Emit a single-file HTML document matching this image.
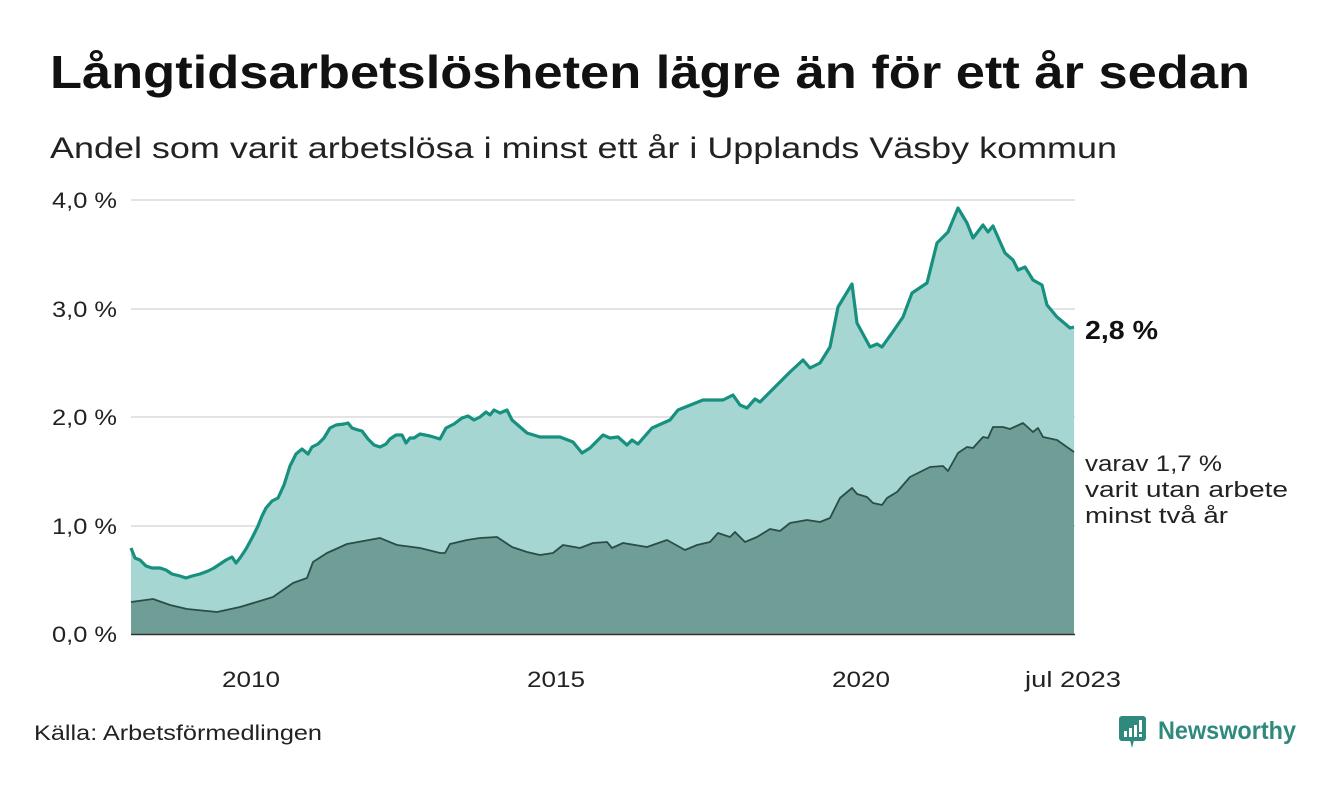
<!DOCTYPE html>
<html><head><meta charset="utf-8"><style>
body{margin:0;background:#fff;width:1340px;height:780px;overflow:hidden;font-family:"Liberation Sans","DejaVu Sans",sans-serif;color:#111}
</style></head><body>
<svg width="1340" height="780" xmlns="http://www.w3.org/2000/svg" font-family="Liberation Sans, DejaVu Sans, sans-serif">
<text x="50" y="88" font-size="46" font-weight="bold" fill="#111" textLength="1200" lengthAdjust="spacingAndGlyphs">Långtidsarbetslösheten lägre än för ett år sedan</text>
<text x="50" y="158" font-size="30" fill="#222" textLength="1067" lengthAdjust="spacingAndGlyphs">Andel som varit arbetslösa i minst ett år i Upplands Väsby kommun</text>
<g stroke="#e3e3e6" stroke-width="2">
<line x1="131" y1="200" x2="1075" y2="200"/><line x1="131" y1="309" x2="1075" y2="309"/><line x1="131" y1="417" x2="1075" y2="417"/><line x1="131" y1="526" x2="1075" y2="526"/>
</g>
<g font-size="22" fill="#222">
<text x="52" y="208" textLength="65" lengthAdjust="spacingAndGlyphs">4,0 %</text><text x="52" y="317" textLength="65" lengthAdjust="spacingAndGlyphs">3,0 %</text><text x="52" y="425" textLength="65" lengthAdjust="spacingAndGlyphs">2,0 %</text><text x="52" y="534" textLength="65" lengthAdjust="spacingAndGlyphs">1,0 %</text><text x="52" y="642" textLength="65" lengthAdjust="spacingAndGlyphs">0,0 %</text>
</g>
<polygon fill="#a5d6d1" points="131,634 131,548 135,558 140,560 146,566 152,568 160,568 166,570 172,574 180,576 186,578 192,576 200,574 208,571 214,568 220,564 226,560 232,557 236,563 240,558 246,549 252,538 258,526 262,516 266,508 272,501 278,498 284,485 290,466 296,454 302,449 308,454 312,447 318,444 324,438 330,428 336,425 344,424 348,423 352,428 358,430 362,431 368,439 374,445 380,447 386,444 390,439 396,435 402,435 406,443 410,438 414,438 420,434 430,436 440,439 446,428 454,424 462,418 468,416 474,420 480,417 486,412 490,415 494,410 500,413 507,410 512,420 527,433 540,437 560,437 573,442 582,453 590,448 603,435 610,438 618,437 627,445 632,440 638,444 652,428 670,420 678,410 703,400 723,400 733,395 740,405 747,408 755,399 760,402 772,390 790,372 803,360 810,368 820,363 830,347 838,307 852,284 857,323 870,347 877,344 882,347 892,333 903,317 912,293 927,283 937,243 948,232 958,208 967,223 973,238 983,225 988,232 993,226 1005,253 1013,260 1018,270 1025,267 1033,280 1042,285 1047,305 1057,317 1063,322 1070,328 1074,327 1074,634"/>
<polyline fill="none" stroke="#17907f" stroke-width="3.2" stroke-linejoin="round" points="131,548 135,558 140,560 146,566 152,568 160,568 166,570 172,574 180,576 186,578 192,576 200,574 208,571 214,568 220,564 226,560 232,557 236,563 240,558 246,549 252,538 258,526 262,516 266,508 272,501 278,498 284,485 290,466 296,454 302,449 308,454 312,447 318,444 324,438 330,428 336,425 344,424 348,423 352,428 358,430 362,431 368,439 374,445 380,447 386,444 390,439 396,435 402,435 406,443 410,438 414,438 420,434 430,436 440,439 446,428 454,424 462,418 468,416 474,420 480,417 486,412 490,415 494,410 500,413 507,410 512,420 527,433 540,437 560,437 573,442 582,453 590,448 603,435 610,438 618,437 627,445 632,440 638,444 652,428 670,420 678,410 703,400 723,400 733,395 740,405 747,408 755,399 760,402 772,390 790,372 803,360 810,368 820,363 830,347 838,307 852,284 857,323 870,347 877,344 882,347 892,333 903,317 912,293 927,283 937,243 948,232 958,208 967,223 973,238 983,225 988,232 993,226 1005,253 1013,260 1018,270 1025,267 1033,280 1042,285 1047,305 1057,317 1063,322 1070,328 1074,327"/>
<polygon fill="#6f9e97" points="131,634 131,602 153,599 170,605 187,609 217,612 240,607 260,601 273,597 293,583 307,578 313,562 327,553 347,544 380,538 397,545 420,548 440,553 445,553 450,544 467,540 480,538 497,537 512,547 527,552 540,555 553,553 563,545 580,548 593,543 607,542 612,548 623,543 647,547 667,540 685,550 697,545 710,542 718,533 730,537 735,532 745,542 757,537 770,529 780,531 790,523 807,520 820,522 830,518 840,498 852,488 857,494 867,497 873,503 882,505 887,498 897,492 910,477 930,467 943,466 948,471 958,453 967,447 973,448 983,437 988,438 993,427 1003,427 1010,429 1023,423 1033,432 1038,428 1043,437 1057,440 1074,452 1074,634"/>
<polyline fill="none" stroke="#2b4d48" stroke-width="1.8" stroke-linejoin="round" points="131,602 153,599 170,605 187,609 217,612 240,607 260,601 273,597 293,583 307,578 313,562 327,553 347,544 380,538 397,545 420,548 440,553 445,553 450,544 467,540 480,538 497,537 512,547 527,552 540,555 553,553 563,545 580,548 593,543 607,542 612,548 623,543 647,547 667,540 685,550 697,545 710,542 718,533 730,537 735,532 745,542 757,537 770,529 780,531 790,523 807,520 820,522 830,518 840,498 852,488 857,494 867,497 873,503 882,505 887,498 897,492 910,477 930,467 943,466 948,471 958,453 967,447 973,448 983,437 988,438 993,427 1003,427 1010,429 1023,423 1033,432 1038,428 1043,437 1057,440 1074,452"/>
<line x1="131" y1="634.5" x2="1075" y2="634.5" stroke="#333" stroke-width="1.5"/>
<g font-size="22" fill="#222">
<text x="222" y="687" textLength="58" lengthAdjust="spacingAndGlyphs">2010</text><text x="527" y="687" textLength="58" lengthAdjust="spacingAndGlyphs">2015</text><text x="832" y="687" textLength="58" lengthAdjust="spacingAndGlyphs">2020</text><text x="1025" y="687" textLength="96" lengthAdjust="spacingAndGlyphs">jul 2023</text>
</g>
<text x="1085" y="339" font-size="26" font-weight="bold" fill="#111" textLength="73" lengthAdjust="spacingAndGlyphs">2,8 %</text>
<g font-size="22" fill="#222">
<text x="1085" y="471" textLength="137" lengthAdjust="spacingAndGlyphs">varav 1,7 %</text><text x="1085" y="497" textLength="203" lengthAdjust="spacingAndGlyphs">varit utan arbete</text><text x="1085" y="523" textLength="143" lengthAdjust="spacingAndGlyphs">minst två år</text>
</g>
<text x="34" y="740" font-size="21" fill="#222" textLength="288" lengthAdjust="spacingAndGlyphs">Källa: Arbetsförmedlingen</text>
<g>
<rect x="1119" y="716" width="27" height="25" rx="3" fill="#2f8a7d"/>
<polygon points="1130,740 1134,740 1132,748" fill="#2f8a7d"/>
<rect x="1124" y="731" width="3" height="6" fill="#fff"/><rect x="1129" y="728" width="3" height="9" fill="#fff"/><rect x="1134" y="725" width="3" height="12" fill="#fff"/><rect x="1139" y="720" width="3" height="12" fill="#fff"/><rect x="1139" y="734" width="3" height="3" fill="#fff"/>
<text x="1158" y="739" font-size="25" font-weight="bold" fill="#2f8a7d" textLength="138" lengthAdjust="spacingAndGlyphs">Newsworthy</text>
</g>
</svg>
</body></html>
